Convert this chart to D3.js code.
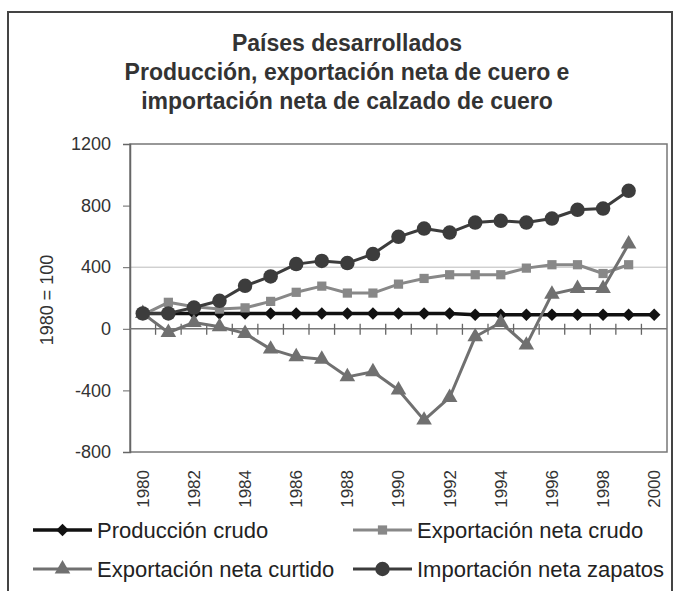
<!DOCTYPE html>
<html>
<head>
<meta charset="utf-8">
<script src="https://cdn.jsdelivr.net/npm/d3@7"></script>
<style>
  body { margin: 0; background: #fff; }
  svg { display: block; font-family: "Liberation Sans", Arial, sans-serif; }
</style>
</head>
<body>
<div class="display"></div>
<script>
// Países desarrollados: producción, exportación e importación (1980 = 100)

const WIDTH = 677;
const HEIGHT = 591;
const PLOT = { left: 130, right: 667, top: 144, bottom: 452 };

const years = ['1980', '1981', '1982', '1983', '1984', '1985', '1986', '1987', '1988', '1989', '1990',
  '1991', '1992', '1993', '1994', '1995', '1996', '1997', '1998', '1999', '2000'];
const yTicks = [-800, -400, 0, 400, 800, 1200];
const titleLines = ['Países desarrollados', 'Producción, exportación neta de cuero e', 'importación neta de calzado de cuero'];

const produccion = [100, 100, 100, 100, 100, 100, 100, 100, 100, 100, 100, 100, 100, 92, 92, 92, 92, 92, 92, 92, 92];
const expCrudo = [90, 172, 143, 128, 136, 178, 237, 277, 232, 232, 290, 327, 351, 351, 351, 394, 416, 416, 359, 416, null];
const expCurtido = [100, -24, 41, 13, -30, -132, -182, -197, -312, -279, -398, -593, -446, -52, 41, -106, 225, 262, 262, 550, null];
const impZapatos = [100, 100, 138, 182, 279, 340, 420, 441, 427, 485, 597, 651, 625, 690, 701, 690, 716, 773, 781, 896, null];

const series = [
  { name: 'Producción crudo', values: produccion, color: '#111', marker: 'diamond', width: 3.5 },
  { name: 'Exportación neta crudo', values: expCrudo, color: '#888', marker: 'square', width: 3 },
  { name: 'Exportación neta curtido', values: expCurtido, color: '#707070', marker: 'triangle', width: 3 },
  { name: 'Importación neta zapatos', values: impZapatos, color: '#3c3c3c', marker: 'circle', width: 3 }
];

const symbols = {
  diamond: { gen: d3.symbol().type(d3.symbolSquare).size(78), rot: 45 },
  square: { gen: d3.symbol().type(d3.symbolSquare).size(85), rot: 0 },
  triangle: { gen: d3.symbol().type(d3.symbolTriangle).size(105), rot: 0 },
  circle: { gen: d3.symbol().type(d3.symbolCircle).size(165), rot: 0 }
};

const svg = d3.select('.display')
  .append('svg')
  .attr('width', WIDTH)
  .attr('height', HEIGHT);

// outer frame
svg.append('rect')
  .attr('x', 8).attr('y', 12)
  .attr('width', 664).attr('height', 600)
  .attr('fill', 'none')
  .attr('stroke', '#444')
  .attr('stroke-width', 2);

// title
svg.append('g')
  .selectAll('text')
  .data(titleLines)
  .enter()
  .append('text')
  .attr('x', 347)
  .attr('y', (d, i) => 51 + i * 29)
  .attr('text-anchor', 'middle')
  .attr('font-size', 23)
  .attr('font-weight', 'bold')
  .attr('fill', '#333')
  .text(d => d);

const x = d3.scaleBand().domain(years).range([PLOT.left, PLOT.right]);
const y = d3.scaleLinear().domain([-800, 1200]).range([PLOT.bottom, PLOT.top]);
const cx = d => x(d) + x.bandwidth() / 2;

// gridline at 400
svg.append('line')
  .attr('x1', PLOT.left).attr('x2', PLOT.right)
  .attr('y1', y(400)).attr('y2', y(400))
  .attr('stroke', '#bbb').attr('stroke-width', 1);

// plot border
svg.append('rect')
  .attr('x', PLOT.left).attr('y', PLOT.top)
  .attr('width', PLOT.right - PLOT.left).attr('height', PLOT.bottom - PLOT.top)
  .attr('fill', 'none')
  .attr('stroke', '#777')
  .attr('stroke-width', 1.5);

// y axis
const yAxis = svg.append('g')
  .attr('transform', `translate(${PLOT.left},0)`)
  .call(d3.axisLeft(y).tickValues(yTicks).tickSize(7).tickPadding(12).tickFormat(d => String(d)));
yAxis.select('.domain').attr('stroke', '#666').attr('stroke-width', 1.5);
yAxis.selectAll('.tick line').attr('stroke', '#666');
yAxis.selectAll('text')
  .attr('font-size', 18)
  .attr('fill', '#333')
  .attr('font-family', '"Liberation Sans", Arial, sans-serif');

svg.append('text')
  .attr('transform', 'translate(47,300) rotate(-90)')
  .attr('text-anchor', 'middle')
  .attr('dy', '0.35em')
  .attr('font-size', 18)
  .attr('fill', '#333')
  .text('1980 = 100');

// x axis line at zero with crossing ticks
svg.append('line')
  .attr('x1', PLOT.left).attr('x2', PLOT.right)
  .attr('y1', y(0)).attr('y2', y(0))
  .attr('stroke', '#777').attr('stroke-width', 1.5);

svg.append('g')
  .selectAll('line')
  .data(years.slice(1))
  .enter()
  .append('line')
  .attr('x1', d => x(d)).attr('x2', d => x(d))
  .attr('y1', y(0) - 5).attr('y2', y(0) + 6)
  .attr('stroke', '#666').attr('stroke-width', 1.3);

// x labels (every other year) below the plot
svg.append('g')
  .selectAll('text')
  .data(years.filter((d, i) => i % 2 === 0))
  .enter()
  .append('text')
  .attr('transform', d => `translate(${cx(d)},470) rotate(-90)`)
  .attr('text-anchor', 'end')
  .attr('dy', '0.35em')
  .attr('font-size', 17)
  .attr('fill', '#333')
  .text(d => d);

// series lines and markers
const line = d3.line()
  .defined(d => d.v !== null)
  .x(d => cx(d.year))
  .y(d => y(d.v));

series.forEach(s => {
  const pts = years.map((yr, i) => ({ year: yr, v: s.values[i] }));
  const sym = symbols[s.marker];
  svg.append('path')
    .datum(pts)
    .attr('fill', 'none')
    .attr('stroke', s.color)
    .attr('stroke-width', s.width)
    .attr('stroke-linejoin', 'round')
    .attr('d', line);
  svg.append('g')
    .selectAll('path')
    .data(pts.filter(d => d.v !== null))
    .enter()
    .append('path')
    .attr('d', sym.gen)
    .attr('transform', d => `translate(${cx(d.year)},${y(d.v)}) rotate(${sym.rot})`)
    .attr('fill', s.color);
});

// legend
const legendPos = [[33, 530], [353, 530], [33, 569], [353, 569]];
const legend = svg.append('g')
  .selectAll('g')
  .data(series)
  .enter()
  .append('g')
  .attr('transform', (d, i) => `translate(${legendPos[i][0]},${legendPos[i][1]})`);

legend.append('line')
  .attr('x1', 0).attr('x2', 59)
  .attr('stroke', d => d.color)
  .attr('stroke-width', d => d.width);
legend.append('path')
  .attr('d', d => symbols[d.marker].gen())
  .attr('transform', d => `translate(29.5,0) rotate(${symbols[d.marker].rot})`)
  .attr('fill', d => d.color);
legend.append('text')
  .attr('x', 64)
  .attr('dy', '0.35em')
  .attr('font-size', 22)
  .attr('fill', '#222')
  .text(d => d.name);
</script>
</body>
</html>
